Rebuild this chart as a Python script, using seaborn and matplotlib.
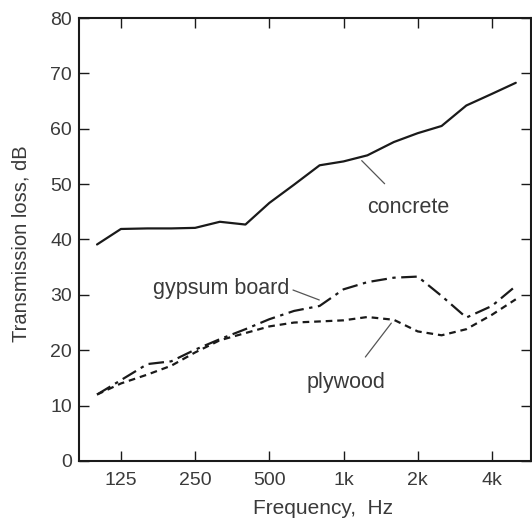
import matplotlib
matplotlib.use('Agg')
import matplotlib.pyplot as plt
import numpy as np
import pandas as pd
import seaborn as sns

# третьоктавные частоты, Гц
freqs = [100, 125, 160, 200, 250, 315, 400, 500, 630, 800,
         1000, 1250, 1600, 2000, 2500, 3150, 4000, 5000]

# звукоизоляция, дБ
concrete = [39.1, 41.9, 42.0, 42.0, 42.1, 43.2, 42.7, 46.6, 49.9, 53.4,
            54.1, 55.2, 57.6, 59.2, 60.5, 64.2, 66.3, 68.3]
gypsum = [12.0, 14.6, 17.5, 18.0, 20.1, 22.0, 23.8, 25.6, 27.1, 28.0,
          31.0, 32.3, 33.1, 33.3, 29.8, 25.9, 28.0, 31.6]
plywood = [12.0, 14.0, 15.6, 17.2, 19.6, 21.8, 23.1, 24.3, 25.0, 25.2,
           25.4, 26.0, 25.5, 23.4, 22.7, 23.8, 26.4, 29.2]

x_ticks = [125, 250, 500, 1000, 2000, 4000]
x_tick_labels = ['125', '250', '500', '1k', '2k', '4k']
y_ticks = [0, 10, 20, 30, 40, 50, 60, 70, 80]

materials = ['concrete', 'gypsum board', 'plywood']

df = pd.DataFrame({
    'freq': freqs * 3,
    'tl': concrete + gypsum + plywood,
    'material': np.repeat(materials, len(freqs)),
})

sns.set_theme(style='ticks')
plt.rcParams['font.family'] = ['Liberation Sans', 'DejaVu Sans']

text_color = '#3a3a3a'

fig = plt.figure(figsize=(5.32, 5.22), dpi=100)
ax = fig.add_axes([0.1485, 0.1169, 0.8495, 0.8486])

sns.lineplot(
    data=df, x='freq', y='tl', style='material', ax=ax,
    color='#1a1a1a', linewidth=1.6,
    dashes={'concrete': '', 'gypsum board': (7, 2.5, 1.5, 2.5), 'plywood': (3, 2.2)},
    legend=False,
)

ax.set_xscale('log')
ax.set_xlim(84.5, 5760)
ax.set_ylim(0, 80)
ax.set_xticks(x_ticks)
ax.set_xticklabels(x_tick_labels)
ax.xaxis.set_minor_locator(matplotlib.ticker.NullLocator())
ax.set_yticks(y_ticks)

ax.tick_params(axis='both', direction='in', length=7.5, width=1.0,
               top=True, right=True, labelsize=14, colors='#1a1a1a',
               labelcolor=text_color)
ax.tick_params(axis='x', pad=8)
ax.tick_params(axis='y', pad=5)
for s in ax.spines.values():
    s.set_linewidth(1.5)
    s.set_color('#1a1a1a')

ax.set_xlabel('Frequency,  Hz', fontsize=15, color=text_color)
ax.xaxis.set_label_coords(0.54, -0.085)
ax.set_ylabel('Transmission loss, dB', fontsize=14.5, color=text_color)
ax.yaxis.set_label_coords(-0.108, 0.49)

# подписи кривых с выносками
leader = dict(arrowstyle='-', color='#555555', lw=0.9)
ax.annotate('concrete', xy=(1164, 54.6), xytext=(1828, 45.8),
            ha='center', va='center', fontsize=15.5, color=text_color,
            arrowprops=dict(leader, shrinkA=10))
ax.annotate('gypsum board', xy=(817, 28.9), xytext=(320, 31.1),
            ha='center', va='center', fontsize=15.5, color=text_color,
            arrowprops=dict(leader, shrinkA=0, relpos=(1.0, 0.5)))
ax.annotate('plywood', xy=(1588, 25.3), xytext=(1019, 14.1),
            ha='center', va='center', fontsize=15.5, color=text_color,
            arrowprops=dict(leader, shrinkA=11))

fig.savefig('out.png', dpi=100)
